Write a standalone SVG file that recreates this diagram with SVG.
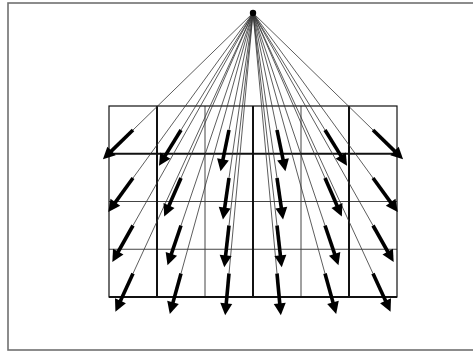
<svg xmlns="http://www.w3.org/2000/svg" xmlns:xlink="http://www.w3.org/1999/xlink" width="473" height="354" viewBox="0 0 473 354">
<style>
.frame{fill:none;stroke:#707070;stroke-width:1.6}
.gthin{stroke:#444;stroke-width:1;fill:none}
.gout{stroke:#111;stroke-width:1.2;fill:none}
.gthick{stroke:#111;stroke-width:2;fill:none}
.ray{stroke:#333;stroke-width:0.8;fill:none}
</style>
<defs>
<g id="arr">
<rect x="0" y="-1.8" width="31" height="3.6" fill="#000"/>
<polygon points="30,-6 42,0 30,6" fill="#000"/>
</g>
</defs>
<rect width="473" height="354" fill="#fff"/>
<rect class="frame" x="8" y="3" width="475" height="347"/>
<g id="grid">
<line class="gthin" x1="109" y1="201.5" x2="397" y2="201.5"/>
<line class="gthin" x1="109" y1="249.25" x2="397" y2="249.25"/>
<line class="gthin" x1="205" y1="106" x2="205" y2="297"/>
<line class="gthin" x1="301" y1="106" x2="301" y2="297"/>
<rect class="gout" x="109" y="106" width="288" height="191"/>
<line class="gthick" x1="109" y1="153.75" x2="397" y2="153.75"/>
<line class="gthick" x1="109" y1="297" x2="397" y2="297"/>
<line class="gthick" x1="157" y1="106" x2="157" y2="297"/>
<line class="gthick" x1="253" y1="106" x2="253" y2="297"/>
<line class="gthick" x1="349" y1="106" x2="349" y2="297"/>
</g>
<g id="connectors">
<path class="ray" d="M253,13L133,130M253,13L181,130M253,13L229,130M253,13L277,130M253,13L325,130M253,13L373,130
M253,13L133,178M253,13L181,178M253,13L229,178M253,13L277,178M253,13L325,178M253,13L373,178
M253,13L133,225.5M253,13L181,225.5M253,13L229,225.5M253,13L277,225.5M253,13L325,225.5M253,13L373,225.5
M253,13L133,273.5M253,13L181,273.5M253,13L229,273.5M253,13L277,273.5M253,13L325,273.5M253,13L373,273.5"/>
</g>
<g id="source"><circle cx="253" cy="13" r="3.2" fill="#000"/></g>
<g id="arrows">
<g id="a11"><use xlink:href="#arr" href="#arr" transform="translate(133,130) rotate(135.73)"/></g>
<g id="a12"><use xlink:href="#arr" href="#arr" transform="translate(181,130) rotate(121.61)"/></g>
<g id="a13"><use xlink:href="#arr" href="#arr" transform="translate(229,130) rotate(101.59)"/></g>
<g id="a14"><use xlink:href="#arr" href="#arr" transform="translate(277,130) rotate(78.41)"/></g>
<g id="a15"><use xlink:href="#arr" href="#arr" transform="translate(325,130) rotate(58.39)"/></g>
<g id="a16"><use xlink:href="#arr" href="#arr" transform="translate(373,130) rotate(44.27)"/></g>
<g id="a21"><use xlink:href="#arr" href="#arr" transform="translate(133,178) rotate(126.03)"/></g>
<g id="a22"><use xlink:href="#arr" href="#arr" transform="translate(181,178) rotate(113.57)"/></g>
<g id="a23"><use xlink:href="#arr" href="#arr" transform="translate(229,178) rotate(98.28)"/></g>
<g id="a24"><use xlink:href="#arr" href="#arr" transform="translate(277,178) rotate(81.72)"/></g>
<g id="a25"><use xlink:href="#arr" href="#arr" transform="translate(325,178) rotate(66.43)"/></g>
<g id="a26"><use xlink:href="#arr" href="#arr" transform="translate(373,178) rotate(53.97)"/></g>
<g id="a31"><use xlink:href="#arr" href="#arr" transform="translate(133,225.5) rotate(119.46)"/></g>
<g id="a32"><use xlink:href="#arr" href="#arr" transform="translate(181,225.5) rotate(108.72)"/></g>
<g id="a33"><use xlink:href="#arr" href="#arr" transform="translate(229,225.5) rotate(96.44)"/></g>
<g id="a34"><use xlink:href="#arr" href="#arr" transform="translate(277,225.5) rotate(83.56)"/></g>
<g id="a35"><use xlink:href="#arr" href="#arr" transform="translate(325,225.5) rotate(71.28)"/></g>
<g id="a36"><use xlink:href="#arr" href="#arr" transform="translate(373,225.5) rotate(60.54)"/></g>
<g id="a41"><use xlink:href="#arr" href="#arr" transform="translate(133,273.5) rotate(114.73)"/></g>
<g id="a42"><use xlink:href="#arr" href="#arr" transform="translate(181,273.5) rotate(105.45)"/></g>
<g id="a43"><use xlink:href="#arr" href="#arr" transform="translate(229,273.5) rotate(95.26)"/></g>
<g id="a44"><use xlink:href="#arr" href="#arr" transform="translate(277,273.5) rotate(84.74)"/></g>
<g id="a45"><use xlink:href="#arr" href="#arr" transform="translate(325,273.5) rotate(74.55)"/></g>
<g id="a46"><use xlink:href="#arr" href="#arr" transform="translate(373,273.5) rotate(65.27)"/></g>
</g>
</svg>
